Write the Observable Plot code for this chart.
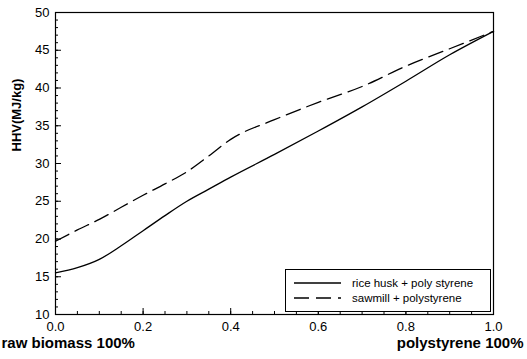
<!DOCTYPE html>
<html>
<head>
<meta charset="utf-8">
<script src="https://cdn.jsdelivr.net/npm/d3@7"></script>
<script src="https://cdn.jsdelivr.net/npm/@observablehq/plot@0.6"></script>
<style>
  html, body { margin: 0; padding: 0; background: #fff; }
  #wrap { position: relative; width: 527px; height: 359px; font-family: Arial, "Liberation Sans", sans-serif; }
  #legend { position: absolute; left: 285px; top: 269px; width: 204px; height: 41px; border: 1px solid #000; background: #fff; }
</style>
</head>
<body>
<div id="wrap"></div>
<script>
// ---- data ----
const blendFraction = [0, 0.05, 0.1, 0.15, 0.2, 0.25, 0.3, 0.35, 0.4, 0.5, 0.6, 0.7, 0.8, 0.9, 1.0];
const riceHuskPS   = [15.5, 16.2, 17.3, 19.1, 21.1, 23.1, 25.0, 26.6, 28.2, 31.2, 34.3, 37.5, 40.9, 44.4, 47.5];
const sawmillPS    = [19.7, 21.2, 22.6, 24.2, 25.8, 27.3, 28.9, 31.0, 33.2, 35.8, 38.1, 40.2, 42.9, 45.2, 47.5];
const seriesNames  = ["rice husk + poly styrene", "sawmill + polystyrene"];
const yMajorTicks  = [10, 15, 20, 25, 30, 35, 40, 45, 50];
const xMajorTicks  = [0, 0.2, 0.4, 0.6, 0.8, 1.0];
const yMinorTicks  = d3.range(10, 51, 1);
const xMinorTicks  = d3.range(0, 1.0001, 0.05);
const yLabel = "HHV(MJ/kg)";
const xLeftLabel = "raw biomass 100%";
const xRightLabel = "polystyrene 100%";

const rice = blendFraction.map((x, i) => ({x, y: riceHuskPS[i]}));
const saw  = blendFraction.map((x, i) => ({x, y: sawmillPS[i]}));

const W = 527, H = 359, mL = 55, mR = 34, mT = 12, mB = 45;
const fw = W - mL - mR, fh = H - mT - mB;
const font = 'Arial, "Liberation Sans", sans-serif';

const chart = Plot.plot({
  width: W, height: H,
  marginLeft: mL, marginRight: mR, marginTop: mT, marginBottom: mB,
  style: {fontFamily: font, background: "#fff", color: "#000"},
  x: {domain: [0, 1]},
  y: {domain: [10, 50]},
  marks: [
    Plot.axisY(yMajorTicks, {tickSize: 0, tickPadding: 6, fontSize: 13, label: null}),
    Plot.axisX(xMajorTicks, {tickSize: 0, tickPadding: 7, fontSize: 13, tickFormat: d3.format(".1f"), label: null}),
    Plot.tickY(yMinorTicks, {y: d => d, insetRight: fw - 3, stroke: "#000", strokeWidth: 1}),
    Plot.tickY(yMajorTicks, {y: d => d, insetRight: fw - 6, stroke: "#000", strokeWidth: 1}),
    Plot.tickX(xMinorTicks, {x: d => d, insetTop: fh - 3, stroke: "#000", strokeWidth: 1}),
    Plot.tickX(xMajorTicks, {x: d => d, insetTop: fh - 6, stroke: "#000", strokeWidth: 1}),
    Plot.line(rice, {x: "x", y: "y", curve: "monotone-x", stroke: "#000", strokeWidth: 1.3}),
    Plot.line(saw, {x: "x", y: "y", curve: "monotone-x", stroke: "#000", strokeWidth: 1.3, strokeDasharray: "15,7"}),
    Plot.frame({stroke: "#000", strokeWidth: 1.2}),
    Plot.text([yLabel], {frameAnchor: "left", dx: -39, dy: -12, rotate: -90, fontWeight: "bold", fontSize: 13}),
    Plot.text([xLeftLabel], {frameAnchor: "bottom-left", dx: -54, dy: 33, textAnchor: "start", fontWeight: "bold", fontSize: 15}),
    Plot.text([xRightLabel], {frameAnchor: "bottom-right", dx: 30, dy: 33, textAnchor: "end", fontWeight: "bold", fontSize: 15})
  ]
});

const wrap = document.getElementById("wrap");
wrap.appendChild(chart);

// legend
const legend = document.createElement("div");
legend.id = "legend";
const lsvg = d3.create("svg").attr("width", 204).attr("height", 41);
const rows = [{name: seriesNames[0], dash: null, y: 13}, {name: seriesNames[1], dash: "15,7", y: 28}];
rows.forEach(r => {
  lsvg.append("line").attr("x1", 8).attr("x2", 55).attr("y1", r.y).attr("y2", r.y)
    .attr("stroke", "#000").attr("stroke-width", 1.3).attr("stroke-dasharray", r.dash);
  lsvg.append("text").attr("x", 66).attr("y", r.y).attr("dy", "0.35em")
    .attr("font-family", font).attr("font-size", 11.5).text(r.name);
});
legend.appendChild(lsvg.node());
wrap.appendChild(legend);
</script>
</body>
</html>
